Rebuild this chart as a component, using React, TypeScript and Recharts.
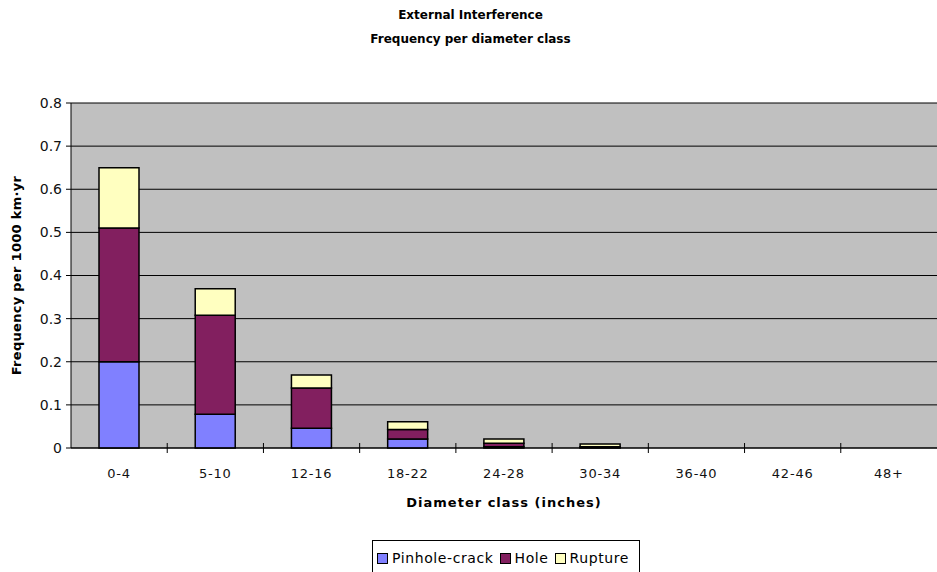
import { Bar, BarChart, CartesianGrid, Label, XAxis, YAxis } from "recharts";

const CLASSES = ["0-4", "5-10", "12-16", "18-22", "24-28", "30-34", "36-40", "42-46", "48+"];
const PINHOLE = [0.2, 0.078, 0.046, 0.021, 0.003, 0.001, 0, 0, 0];
const HOLE = [0.31, 0.23, 0.093, 0.022, 0.008, 0.002, 0, 0, 0];
const RUPTURE = [0.14, 0.061, 0.03, 0.018, 0.01, 0.006, 0, 0, 0];
const Y_TICKS = [0, 0.1, 0.2, 0.3, 0.4, 0.5, 0.6, 0.7, 0.8];

const data = CLASSES.map((c, i) => ({
  cls: c,
  pinhole: PINHOLE[i],
  hole: HOLE[i],
  rupture: RUPTURE[i],
}));

const W = 937;
const H = 572;
const LEFT = 71;
const FONT = "'DejaVu Sans', Verdana, sans-serif";
const BAND = (W - LEFT) / CLASSES.length;

const SERIES = [
  { key: "pinhole", name: "Pinhole-crack", color: "#8080FF" },
  { key: "hole", name: "Hole", color: "#821F5F" },
  { key: "rupture", name: "Rupture", color: "#FFFFC0" },
];

// category label plus an Excel-style tick mark on the right edge of each band
function ClassTick(props: any) {
  const { x, y, payload, index } = props;
  return (
    <g>
      {index < CLASSES.length - 1 && (
        <line x1={x + BAND / 2} x2={x + BAND / 2} y1={y - 5} y2={y + 5} stroke="#000" />
      )}
      <text
        x={x}
        y={y + 30}
        textAnchor="middle"
        fontSize={13}
        letterSpacing={0.8}
        fontFamily={FONT}
        fill="#111"
      >
        {payload.value}
      </text>
    </g>
  );
}

export default function App() {
  return (
    <div style={{ position: "absolute", left: 0, top: 0, width: W, height: H, background: "#fff", overflow: "hidden" }}>
      <div
        style={{
          position: "absolute",
          left: 0,
          width: W,
          top: 3,
          textAlign: "center",
          fontFamily: FONT,
          fontWeight: "bold",
          fontSize: 12,
          lineHeight: "24px",
          paddingLeft: 2,
        }}
      >
        External Interference
        <br />
        Frequency per diameter class
      </div>
      <BarChart width={W} height={H} data={data} margin={{ top: 103, right: 0, left: 0, bottom: 84 }} barSize={40}>
        <CartesianGrid vertical={false} fill="#C0C0C0" stroke="#000" fillOpacity={1} />
        <XAxis
          dataKey="cls"
          height={40}
          tickSize={0}
          tickMargin={0}
          tickLine={false}
          axisLine={{ stroke: "#000" }}
          tick={<ClassTick />}
          interval={0}
        />
        <YAxis
          width={LEFT}
          domain={[0, 0.8]}
          ticks={Y_TICKS}
          tickSize={5}
          tickMargin={4}
          tickLine={{ stroke: "#000" }}
          axisLine={{ stroke: "#000" }}
          tick={{ fontSize: 14, fontFamily: FONT, fill: "#111" }}
          interval={0}
        >
          <Label
            value="Frequency per 1000 km·yr"
            angle={-90}
            position="insideLeft"
            offset={16}
            style={{
              fontSize: 13,
              letterSpacing: 0.3,
              fontFamily: FONT,
              fontWeight: "bold",
              fill: "#000",
              textAnchor: "middle",
            }}
          />
        </YAxis>
        {SERIES.map((s) => (
          <Bar
            key={s.key}
            dataKey={s.key}
            name={s.name}
            stackId="a"
            fill={s.color}
            stroke="#000"
            strokeWidth={1.5}
            isAnimationActive={false}
          />
        ))}
      </BarChart>
      <div
        style={{
          position: "absolute",
          left: LEFT,
          width: W - LEFT,
          top: 495,
          textAlign: "center",
          fontFamily: FONT,
          fontWeight: "bold",
          fontSize: 13,
          letterSpacing: 1,
        }}
      >
        Diameter class (inches)
      </div>
      <div
        style={{
          position: "absolute",
          left: 372,
          top: 540,
          width: 268,
          height: 40,
          border: "1px solid #000",
          boxSizing: "border-box",
          display: "flex",
          alignItems: "flex-start",
          justifyContent: "center",
          paddingTop: 9,
          fontFamily: FONT,
          fontSize: 14,
          letterSpacing: 0.6,
        }}
      >
        {SERIES.map((s) => (
          <span key={s.key} style={{ display: "flex", alignItems: "center", marginRight: 6 }}>
            <span
              style={{
                display: "inline-block",
                width: 9,
                height: 9,
                background: s.color,
                border: "1px solid #000",
                marginRight: 4,
              }}
            />
            {s.name}
          </span>
        ))}
      </div>
    </div>
  );
}
